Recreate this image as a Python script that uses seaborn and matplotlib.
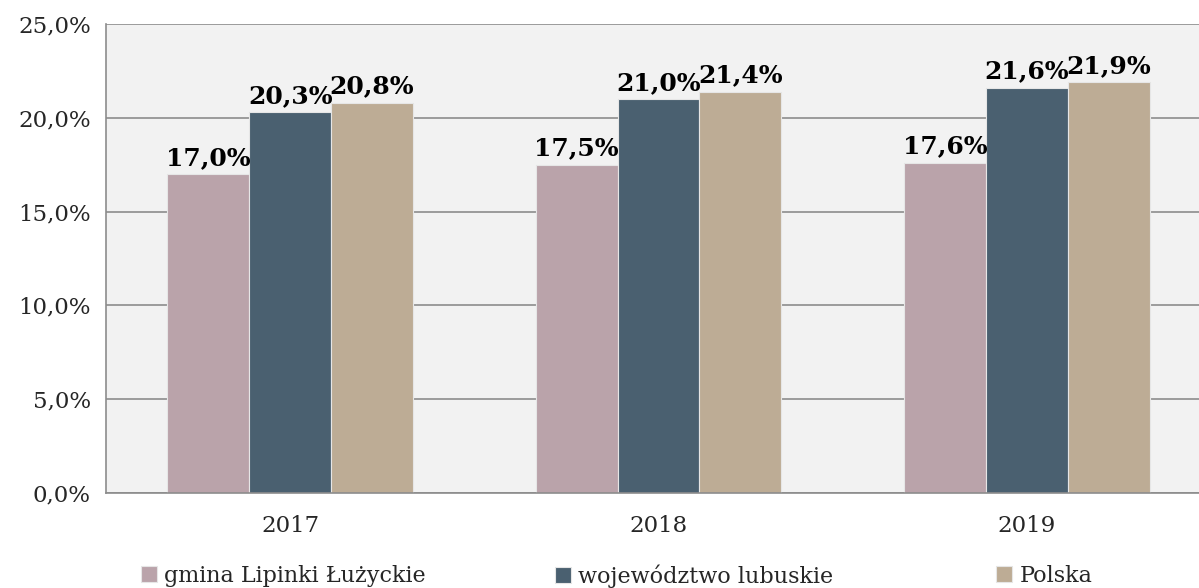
import pandas as pd
import matplotlib
matplotlib.use('Agg')
import matplotlib.pyplot as plt
import seaborn as sns

# chart data
years = ['2017', '2018', '2019']
series = ['gmina Lipinki Łużyckie', 'województwo lubuskie', 'Polska']
gmina = [17.0, 17.5, 17.6]
wojewodztwo = [20.3, 21.0, 21.6]
polska = [20.8, 21.4, 21.9]
colors = ['#BAA3AA', '#4A6070', '#BDAC95']

df = pd.DataFrame({
    'Rok': years * 3,
    'Seria': [s for s in series for _ in years],
    'Wartosc': gmina + wojewodztwo + polska,
})

sns.set_style('white')
plt.rcParams['font.family'] = ['DejaVu Serif', 'DejaVu Sans']

fig = plt.figure(figsize=(11.99, 5.88), dpi=100)
ax = fig.add_axes([106 / 1199, 95 / 588, 1105 / 1199, 469 / 588])
ax.set_facecolor('#F2F2F2')

sns.barplot(data=df, x='Rok', y='Wartosc', hue='Seria', palette=colors,
            width=0.667, gap=0, edgecolor='#E6E6E6', linewidth=0.8,
            saturation=1, ax=ax, legend=True)

# data labels
for cont in ax.containers:
    ax.bar_label(cont, labels=[f'{v:.1f}%'.replace('.', ',') for v in cont.datavalues],
                 fontsize=18, fontweight='bold', padding=3, color='black')

ax.set_ylim(0, 25)
ax.set_xlim(-0.5, 2.5)
ax.set_yticks([0, 5, 10, 15, 20, 25])
ax.set_yticklabels([f'{v:.1f}%'.replace('.', ',') for v in [0, 5, 10, 15, 20, 25]], fontsize=16.5)
ax.tick_params(axis='y', length=7, color='#8C8C8C', width=1.2, pad=4)
ax.set_xticks([0, 1, 2])
ax.set_xticklabels(years, fontsize=16.5)
ax.tick_params(axis='x', which='major', length=0, pad=16)
ax.set_xticks([-0.5, 0.5, 1.5, 2.5], minor=True)
ax.tick_params(axis='x', which='minor', length=7, color='#8C8C8C', width=1.2)
ax.set_xlabel('')
ax.set_ylabel('')

ax.yaxis.grid(True, color='#8C8C8C', linewidth=1.2)
ax.set_axisbelow(True)
for side in ['top', 'right']:
    ax.spines[side].set_visible(False)
for side in ['left', 'bottom']:
    ax.spines[side].set_color('#8C8C8C')
    ax.spines[side].set_linewidth(1.2)

handles, labels = ax.get_legend_handles_labels()
ax.get_legend().remove()
# one legend entry per position, like the Excel legend
legend_x = [141, 555, 996]
for h, lab, lx in zip(handles, labels, legend_x):
    fig.legend([h], [lab], loc='center left', bbox_to_anchor=(lx / 1199, 12 / 588),
               frameon=False, fontsize=16, handlelength=0.7, handleheight=0.7,
               handletextpad=0.35, borderaxespad=0, borderpad=0)

fig.savefig('out.png', dpi=100)
